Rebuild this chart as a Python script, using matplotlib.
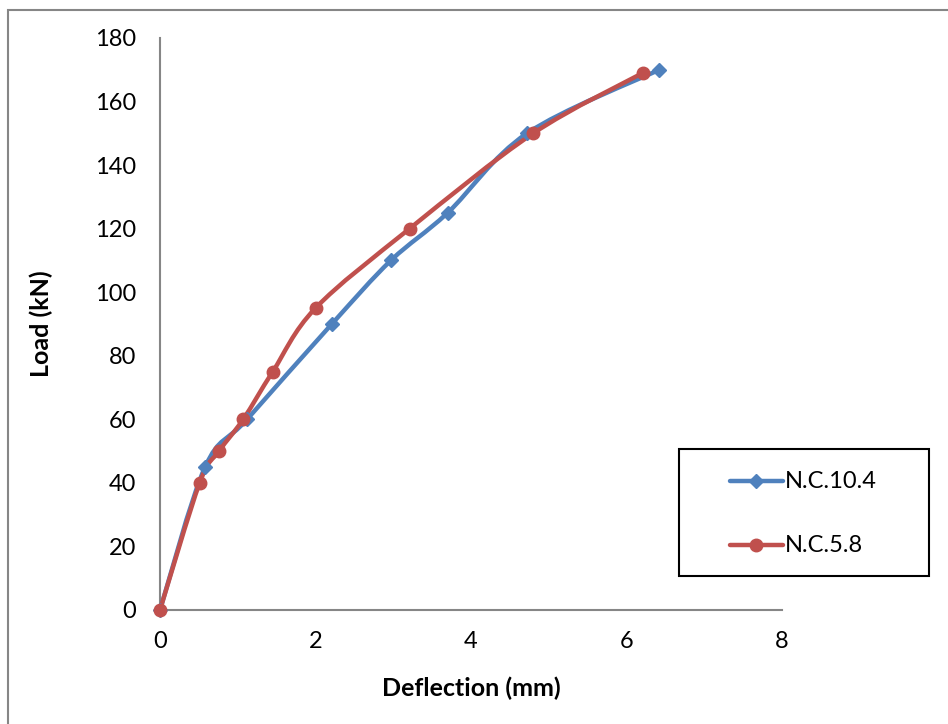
import numpy as np
import matplotlib
matplotlib.use("Agg")
import matplotlib.pyplot as plt
from matplotlib.path import Path
from matplotlib.patches import PathPatch, Rectangle
from matplotlib.lines import Line2D

plt.rcParams['font.family'] = ['Lato', 'DejaVu Sans']

# Load-deflection data
defl_104 = [0, 0.58, 1.12, 2.21, 2.97, 3.70, 4.72, 6.42]
load_104 = [0, 45, 60, 90, 110, 125, 150, 170]
defl_58 = [0, 0.51, 0.76, 1.07, 1.45, 2.00, 3.21, 4.80, 6.21]
load_58 = [0, 40, 50, 60, 75, 95, 120, 150, 169]

series_names = ["N.C.10.4", "N.C.5.8"]
x_ticks = [0, 2, 4, 6, 8]
y_ticks = [0, 20, 40, 60, 80, 100, 120, 140, 160, 180]

BLUE = "#4F81BD"
RED = "#C0504D"
AXIS_GREY = "#868686"

W, H = 948, 724
fig = plt.figure(figsize=(W / 100, H / 100), dpi=100)
ax = fig.add_axes([160 / W, (H - 610) / H, (782 - 160) / W, (610 - 38) / H])
ax.set_xlim(0, 8)
ax.set_ylim(0, 180)
ax.set_xticks(x_ticks)
ax.set_yticks(y_ticks)
ax.tick_params(length=0, labelsize=17)
ax.tick_params(axis="y", pad=17)
ax.tick_params(axis="x", pad=15)
for s in ("top", "right"):
    ax.spines[s].set_visible(False)
for s in ("left", "bottom"):
    ax.spines[s].set_color(AXIS_GREY)
    ax.spines[s].set_linewidth(1.5)
ax.set_xlabel("Deflection (mm)", fontsize=18, fontweight="bold", labelpad=18)
ax.set_ylabel("Load (kN)", fontsize=18, fontweight="bold", labelpad=30)


def smooth_path(xs, ys):
    """Bezier path through the points, with control points taken in display space."""
    pts = ax.transData.transform(np.column_stack([xs, ys]))
    n = len(pts)
    verts = [pts[0]]
    codes = [Path.MOVETO]
    for i in range(n - 1):
        p0 = pts[i - 1] if i > 0 else pts[i]
        p1 = pts[i]
        p2 = pts[i + 1]
        p3 = pts[i + 2] if i + 2 < n else pts[i + 1]
        c1 = p1 + (p2 - p0) / 6.0
        c2 = p2 - (p3 - p1) / 6.0
        verts += [c1, c2, p2]
        codes += [Path.CURVE4] * 3
    data_verts = ax.transData.inverted().transform(np.array(verts))
    return Path(data_verts, codes)


for xs, ys, color, marker, ms in [
    (defl_104, load_104, BLUE, "D", 7),
    (defl_58, load_58, RED, "o", 9),
]:
    ax.add_patch(PathPatch(smooth_path(xs, ys), facecolor="none", edgecolor=color,
                           linewidth=3.2, capstyle="round", joinstyle="round",
                           clip_on=False, zorder=3))
    ax.plot(xs, ys, linestyle="none", marker=marker, markersize=ms, color=color,
            markeredgecolor=color, clip_on=False, zorder=4)

# Legend box
lx0, ly0, lx1, ly1 = 679, 449, 929, 576
fig.patches.append(Rectangle((lx0 / W, 1 - ly1 / H), (lx1 - lx0) / W, (ly1 - ly0) / H,
                             transform=fig.transFigure, facecolor="white",
                             edgecolor="black", linewidth=1.5))
for name, color, marker, ms, yy in [
    (series_names[0], BLUE, "D", 7, 481),
    (series_names[1], RED, "o", 9, 545),
]:
    fy = 1 - yy / H
    fig.add_artist(Line2D([730 / W, 783 / W], [fy, fy], color=color, linewidth=3.2,
                          solid_capstyle="round", transform=fig.transFigure))
    fig.add_artist(Line2D([756 / W], [fy], marker=marker, markersize=ms, color=color,
                          transform=fig.transFigure))
    fig.text(785 / W, fy, name, fontsize=17, va="center", ha="left")

# Chart-area frame
fig.patches.append(Rectangle((8 / W, -0.05), 1.0, 1 - 10 / H + 0.05,
                             transform=fig.transFigure, facecolor="none",
                             edgecolor=AXIS_GREY, linewidth=1.5))

fig.savefig("out.png", dpi=100)
